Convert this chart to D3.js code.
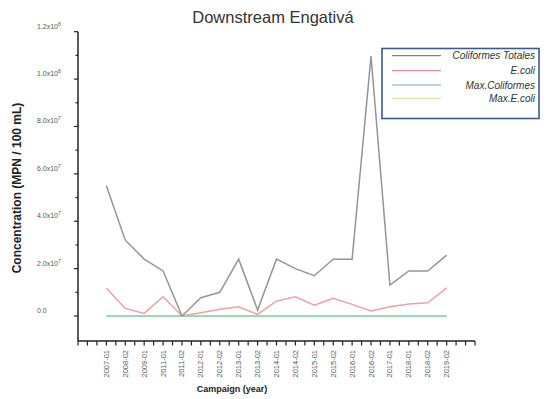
<!DOCTYPE html>
<html><head><meta charset="utf-8">
<script src="https://cdn.jsdelivr.net/npm/d3@7"></script>
<style>
html,body{margin:0;padding:0;background:#fff;}
svg{display:block;font-family:"Liberation Sans",Arial,sans-serif;}
</style></head>
<body><svg id="c" width="550" height="399"></svg>
<script>
const campaigns = ["2007-01","2008-02","2009-01","2011-01","2011-02","2012-01","2012-02","2013-01","2013-02","2014-01","2014-02","2015-01","2015-02","2016-01","2016-02","2017-01","2018-01","2018-02","2019-02"];
const coliformesTotales = [5.5e7,3.2e7,2.4e7,1.9e7,0,0.77e7,1.0e7,2.4e7,0.25e7,2.4e7,2.0e7,1.7e7,2.4e7,2.4e7,10.97e7,1.3e7,1.9e7,1.9e7,2.57e7];
const eColi = [1.17e7,0.32e7,0.11e7,0.81e7,0,0.14e7,0.28e7,0.39e7,0.07e7,0.63e7,0.81e7,0.46e7,0.75e7,0.49e7,0.21e7,0.39e7,0.51e7,0.56e7,1.19e7];
const maxColiformes = [20000,20000,20000,20000,20000,20000,20000,20000,20000,20000,20000,20000,20000,20000,20000,20000,20000,20000,20000];
const maxEcoli = [2000,2000,2000,2000,2000,2000,2000,2000,2000,2000,2000,2000,2000,2000,2000,2000,2000,2000,2000];
const yTickValues = [0,2e7,4e7,6e7,8e7,1.0e8,1.2e8];
const yTickMantissa = ["0.0","2.0","4.0","6.0","8.0","1.0","1.2"];
const yTickExponent = ["","7","7","7","7","8","8"];
const seriesNames = ["Coliformes Totales","E.coli","Max.Coliformes","Max.E.coli"];

const svg = d3.select("#c");
const axisLeft = 78, axisRight = 475, axisBottom = 341;
const step = (axisRight - axisLeft) / (campaigns.length + 2);
const x = d3.scalePoint().domain(campaigns).range([axisLeft + 1.5*step, axisRight - 1.5*step]);
const y = d3.scaleLinear().domain([0, 1.2e8]).range([316, 31.7]);

// title
svg.append("text").attr("x", 273).attr("y", 23).attr("text-anchor","middle")
  .attr("font-size", 16.5).attr("fill","#333").text("Downstream Engativá");

// y axis
const gy = svg.append("g");
gy.append("line").attr("x1",axisLeft).attr("x2",axisLeft).attr("y1",y(1.2e8)).attr("y2",axisBottom)
  .attr("stroke","#222").attr("stroke-width",1.5);
const minorY = d3.range(0, 13).map(i => i*1e7);
gy.selectAll("line.t").data(minorY).join("line")
  .attr("x1", d => axisLeft - ((Math.round(d/1e7)%2===0) ? 4 : 2.5)).attr("x2", axisLeft)
  .attr("y1", d => y(d)).attr("y2", d => y(d)).attr("stroke","#222").attr("stroke-width",1.2);
const yl = gy.selectAll("text.l").data(yTickValues).join("text")
  .attr("x", 37).attr("y", d => y(d) - 3).attr("font-size", 7).attr("fill","#555");
yl.each(function(d,i){
  const t = d3.select(this);
  if (yTickExponent[i] === "") { t.text(yTickMantissa[i]); }
  else {
    t.append("tspan").text(yTickMantissa[i] + "x10");
    t.append("tspan").attr("dy",-3).attr("font-size",5).text(yTickExponent[i]);
  }
});
svg.append("text").attr("transform","translate(21,188) rotate(-90)").attr("text-anchor","middle")
  .attr("font-size", 12).attr("font-weight","bold").attr("fill","#222").text("Concentration (MPN / 100 mL)");

// x axis
const gx = svg.append("g");
gx.append("line").attr("x1",axisLeft).attr("x2",axisRight).attr("y1",axisBottom).attr("y2",axisBottom)
  .attr("stroke","#222").attr("stroke-width",1.5);
const xTicks = d3.range(0, 2*(campaigns.length+2)+1).map(i => axisLeft + i*step/2);
gx.selectAll("line.t").data(xTicks).join("line")
  .attr("x1", d => d).attr("x2", d => d).attr("y1", axisBottom).attr("y2", axisBottom + 4.5)
  .attr("stroke","#222").attr("stroke-width",1.2);
gx.selectAll("text.l").data(campaigns).join("text")
  .attr("transform", d => `translate(${x(d)+2.5},350) rotate(-90)`).attr("text-anchor","end")
  .attr("font-size", 7.5).attr("fill","#555").text(d => d);
svg.append("text").attr("x", 232).attr("y", 392).attr("text-anchor","middle")
  .attr("font-size", 9).attr("font-weight","bold").attr("fill","#222").text("Campaign (year)");

// lines
const line = d3.line().x((d,i) => x(campaigns[i])).y(d => y(d));
svg.append("path").datum(maxColiformes).attr("d", line).attr("fill","none").attr("stroke","#8cc8dc").attr("stroke-width",1.6);
svg.append("path").datum(maxEcoli).attr("d", line).attr("fill","none").attr("stroke","#96d8a8").attr("stroke-width",1.6);
svg.append("path").datum(eColi).attr("d", line).attr("fill","none").attr("stroke","#f0a0a0").attr("stroke-width",1.5);
svg.append("path").datum(coliformesTotales).attr("d", line).attr("fill","none").attr("stroke","#959595").attr("stroke-width",1.5);

// legend
const lg = svg.append("g");
lg.append("rect").attr("x",382).attr("y",48.5).attr("width",157).attr("height",70)
  .attr("fill","#fff").attr("stroke","#3b5b8e").attr("stroke-width",1.6);
const legColors = ["#808080","#e89090","#9cc8d8","#dfe3a0"];
const rowY = [55.7, 70.7, 85, 98.3];
seriesNames.forEach((n,i) => {
  lg.append("line").attr("x1",392).attr("x2",441).attr("y1",rowY[i]).attr("y2",rowY[i])
    .attr("stroke",legColors[i]).attr("stroke-width",1.3);
  lg.append("text").attr("x",535).attr("y",rowY[i]+3.5).attr("text-anchor","end")
    .attr("font-size",10).attr("font-style","italic").attr("fill","#333").text(n);
});
</script></body></html>
